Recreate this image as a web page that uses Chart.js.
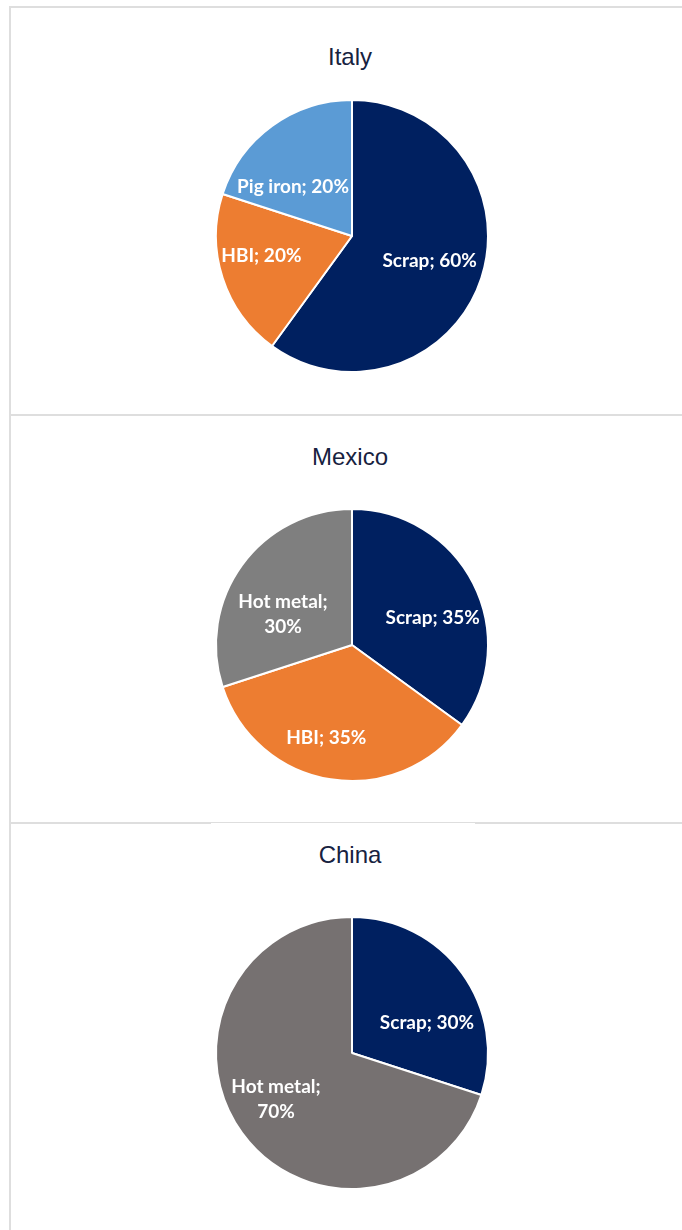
<!DOCTYPE html>
<html>
<head>
<meta charset="utf-8">
<script src="https://cdn.jsdelivr.net/npm/chart.js@4.4.1/dist/chart.umd.min.js"></script>
<style>
    body { margin: 0; background: #fff; width: 682px; height: 1230px; overflow: hidden; position: relative; }
    .panel { position: absolute; left: 9px; width: 720px; box-sizing: border-box; border: 2px solid #dedede; border-right: none; }
    .title { position: absolute; left: 250px; width: 200px; text-align: center; font-family: "Liberation Sans", Arial, sans-serif; font-size: 24px; color: #17223f; line-height: 28px; }
    canvas { position: absolute; }
    .gap { position: absolute; left: 211px; width: 264px; height: 1px; background: #fff; }
</style>
</head>
<body>
<div class="panel" style="top:6px;height:410px"></div>
<div class="panel" style="top:414px;height:410px"></div>
<div class="panel" style="top:822px;height:420px"></div>
<div class="gap" style="top:823px"></div>

<div class="title" style="top:43px">Italy</div>
<div class="title" style="top:443px">Mexico</div>
<div class="title" style="top:841px">China</div>

<canvas id="chartItaly" width="300" height="300" style="left:202px;top:86px"></canvas>
<canvas id="chartMexico" width="300" height="300" style="left:202px;top:495px"></canvas>
<canvas id="chartChina" width="300" height="300" style="left:202px;top:903px"></canvas>

<script>
// data (shares in %)
const italyCats = ['Scrap', 'HBI', 'Pig iron'];
const italyVals = [60, 20, 20];
const mexicoCats = ['Scrap', 'HBI', 'Hot metal'];
const mexicoVals = [35, 35, 30];
const chinaCats = ['Scrap', 'Hot metal'];
const chinaVals = [30, 70];

const colorsByCat = {
    'Scrap': '#002060',
    'HBI': '#ED7D31',
    'Pig iron': '#5B9BD5',
    'Hot metal': '#7F7F7F'
};

// draws "Name; xx%" inside each slice
const sliceLabels = {
    id: 'sliceLabels',
    afterDatasetsDraw(chart, args, opts) {
        const ctx = chart.ctx;
        const meta = chart.getDatasetMeta(0);
        const ds = chart.data.datasets[0];
        ctx.save();
        ctx.font = 'bold 19px Lato, "Open Sans", sans-serif';
        ctx.fillStyle = '#fff';
        ctx.textAlign = 'center';
        ctx.textBaseline = 'middle';
        meta.data.forEach((arc, i) => {
            const p = arc.getProps(['x', 'y', 'startAngle', 'endAngle', 'outerRadius'], true);
            const mid = (p.startAngle + p.endAngle) / 2;
            const r = p.outerRadius * opts.ratio;
            const nudge = (opts.nudge && opts.nudge[i]) || [0, 0];
            const x = p.x + Math.cos(mid) * r + nudge[0];
            const y = p.y + Math.sin(mid) * r + nudge[1];
            const name = chart.data.labels[i];
            const text = `${name}; ${ds.data[i]}%`;
            let lines = [text];
            if (ctx.measureText(text).width > opts.maxWidth) {
                lines = [name + ';', ds.data[i] + '%'];
            }
            const lh = 25;
            lines.forEach((ln, k) => {
                ctx.fillText(ln, x, y + (k - (lines.length - 1) / 2) * lh);
            });
        });
        ctx.restore();
    }
};

function drawPie(id, cats, vals, colors, labelOpts) {
    const ctx = document.getElementById(id);
    return new Chart(ctx, {
        type: 'pie',
        data: {
            labels: cats,
            datasets: [{
                data: vals,
                backgroundColor: colors,
                borderColor: '#ffffff',
                borderWidth: 2,
                radius: 136
            }]
        },
        options: {
            responsive: false,
            animation: false,
            layout: { padding: 0 },
            plugins: {
                legend: { display: false },
                tooltip: { enabled: false },
                sliceLabels: labelOpts
            }
        },
        plugins: [sliceLabels]
    });
}

drawPie('chartItaly', italyCats, italyVals,
    italyCats.map(c => colorsByCat[c]),
    { ratio: 0.6, maxWidth: 200, nudge: [[0, 0], [-13, -5], [-11, 17]] });

drawPie('chartMexico', mexicoCats, mexicoVals,
    mexicoCats.map(c => colorsByCat[c]),
    { ratio: 0.6, maxWidth: 100, nudge: [[8, 10], [-13, 12], [-3, 17]] });

drawPie('chartChina', chinaCats, chinaVals,
    ['#002060', '#767171'],
    { ratio: 0.6, maxWidth: 100, nudge: [[9, 18], [-10, -2]] });
</script>
</body>
</html>
